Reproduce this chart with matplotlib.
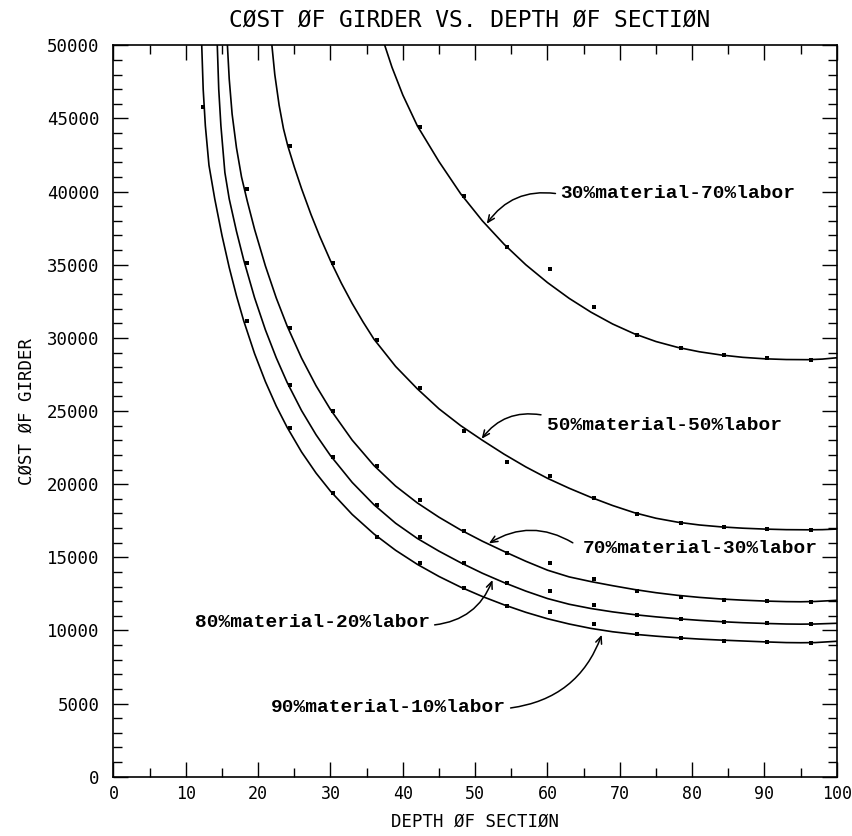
import numpy as np
import matplotlib
matplotlib.use("Agg")
import matplotlib.pyplot as plt
from matplotlib.ticker import MultipleLocator

# ---------------- data ----------------
title = "CØST ØF GIRDER VS. DEPTH ØF SECTIØN"
xlabel = "DEPTH ØF SECTIØN"
ylabel = "CØST ØF GIRDER"

# data points (dots)
dot_x = [12.4, 18.4, 24.4, 30.4, 36.4, 42.4, 48.4, 54.4, 60.4, 66.4, 72.4, 78.4, 84.4, 90.4, 96.4]
nan = np.nan
dots_30 = [nan, nan, nan, nan, nan, 44430, 39720, 36190, 34690, 32100, 30180, 29330, 28850, 28600, 28480]
dots_50 = [nan, nan, 43120, 35140, 29850, 26550, 23650, 21490, 20560, 19050, 17960, 17360, 17090, 16930, 16860]
dots_70 = [nan, 40160, 30650, 25020, 21240, 18900, 16820, 15310, 14630, 13490, 12720, 12300, 12080, 12010, 11970]
dots_80 = [nan, 35140, 26780, 21880, 18570, 16370, 14630, 13260, 12720, 11740, 11050, 10780, 10550, 10490, 10440]
dots_90 = [45800, 31170, 23820, 19400, 16400, 14590, 12900, 11670, 11280, 10470, 9730, 9500, 9300, 9230, 9160]

# fitted curves
curve30_x = [37.5, 38.5, 40, 42, 45, 48, 51, 54, 57, 60, 63, 66, 69, 72, 75, 78, 81, 84, 87, 90, 93, 96, 98, 100]
curve30_y = [50000, 48500, 46600, 44500, 42050, 39850, 38000, 36400, 35000, 33780, 32700, 31760, 30950, 30280,
             29750, 29350, 29050, 28830, 28670, 28570, 28520, 28510, 28550, 28640]

curve50_x = [21.9, 22.3, 22.9, 23.5, 24.1, 25.0, 26.0, 27.3, 28.5, 30.0, 31.5, 33.0, 34.5, 36.0, 39.0, 42.0,
             45.0, 48.0, 51.0, 54.0, 57.0, 60.0, 63.0, 66.0, 69.0, 72.0, 75.0, 78.0, 81.0, 84.0, 87.0, 90.0,
             93.0, 96.0, 98.0, 100.0]
curve50_y = [50000, 48000, 45900, 44300, 43120, 41680, 40200, 38440, 36960, 35270, 33740, 32350, 31090, 29920,
             28050, 26520, 25150, 24000, 23000, 22050, 21180, 20400, 19720, 19100, 18540, 18050, 17670, 17400,
             17210, 17080, 16990, 16930, 16890, 16880, 16890, 16930]

curve70_x = [15.75, 16.0, 16.4, 17.0, 17.7, 18.5, 19.5, 21.0, 22.5, 24.0, 26.0, 28.0, 30.0, 33.0, 36.0, 39.0,
             42.0, 45.0, 48.0, 51.0, 54.0, 57.0, 60.0, 63.0, 66.0, 69.0, 72.0, 75.0, 78.0, 81.0, 84.0, 87.0,
             90.0, 93.0, 95.0, 97.0, 100.0]
curve70_y = [50000, 47700, 45300, 43000, 41000, 39340, 37430, 34920, 32730, 30820, 28620, 26730, 25100, 23010,
             21280, 19870, 18720, 17740, 16870, 16100, 15400, 14730, 14120, 13660, 13340, 13060, 12800, 12580,
             12400, 12260, 12150, 12070, 12010, 11970, 11960, 11980, 12060]

curve80_x = [14.35, 14.55, 14.85, 15.4, 16.0, 17.0, 18.0, 19.5, 21.0, 22.5, 24.0, 26.0, 28.0, 30.0, 33.0, 36.0,
             39.0, 42.0, 45.0, 48.0, 51.0, 54.0, 57.0, 60.0, 63.0, 66.0, 69.0, 72.0, 75.0, 78.0, 81.0, 84.0,
             87.0, 90.0, 93.0, 95.0, 97.0, 100.0]
curve80_y = [50000, 47000, 44500, 41300, 39500, 37290, 35330, 32750, 30550, 28640, 26960, 25030, 23380, 21950,
             20120, 18600, 17330, 16290, 15420, 14630, 13910, 13270, 12690, 12180, 11790, 11500, 11270, 11080,
             10930, 10800, 10690, 10600, 10530, 10480, 10440, 10430, 10440, 10490]

curve90_x = [12.2, 12.4, 12.7, 13.2, 14.0, 15.0, 16.0, 17.0, 18.0, 19.5, 21.0, 22.5, 24.0, 26.0, 28.0, 30.0,
             33.0, 36.0, 39.0, 42.0, 45.0, 48.0, 51.0, 54.0, 57.0, 60.0, 63.0, 66.0, 69.0, 72.0, 75.0, 78.0,
             81.0, 84.0, 87.0, 90.0, 93.0, 95.0, 97.0, 100.0]
curve90_y = [50000, 47000, 44500, 41800, 39500, 37000, 34810, 32880, 31170, 28930, 27010, 25340, 23890, 22200,
             20760, 19520, 17930, 16600, 15480, 14520, 13690, 12960, 12320, 11750, 11240, 10800, 10440, 10140,
             9910, 9740, 9610, 9500, 9410, 9340, 9280, 9220, 9170, 9160, 9170, 9260]

labels = ["30%material-70%labor", "50%material-50%labor", "70%material-30%labor",
          "80%material-20%labor", "90%material-10%labor"]
label_pos = [(61.7, 39870), (59.9, 24040), (64.9, 15570), (11.3, 10530), (21.7, 4700)]
arrow_start = [(61.1, 39870), (59.1, 24740), (63.5, 15990), (44.4, 10380), (54.9, 4700)]
arrow_tip = [(51.6, 37800), (50.9, 23100), (51.9, 15950), (52.4, 13450), (67.5, 9700)]
arrow_rad = [0.3, 0.3, 0.3, 0.3, 0.3]

x_ticks = list(range(0, 101, 10))
y_ticks = list(range(0, 50001, 5000))

# ---------------- drawing ----------------
mono = ["DejaVu Sans Mono"]
fig = plt.figure(figsize=(8.52, 8.36), dpi=100)
ax = fig.add_axes([0.1332, 0.0709, 0.8490, 0.8749])

curves = [(curve30_x, curve30_y), (curve50_x, curve50_y), (curve70_x, curve70_y),
          (curve80_x, curve80_y), (curve90_x, curve90_y)]
for cx, cy in curves:
    ax.plot(cx, cy, color="black", lw=1.2, solid_capstyle="round", solid_joinstyle="round")

for dy in [dots_30, dots_50, dots_70, dots_80, dots_90]:
    ax.plot(dot_x, dy, linestyle="none", marker="s", ms=2.3, mew=0, color="black")

for txt, (tx, ty), s, t, r in zip(labels, label_pos, arrow_start, arrow_tip, arrow_rad):
    ax.text(tx, ty, txt, fontsize=14, fontweight="bold", family=["Liberation Mono"],
            ha="left", va="center", color="black")
    ax.annotate("", xy=t, xytext=s,
                arrowprops=dict(arrowstyle="->,head_length=0.5,head_width=0.22",
                                connectionstyle=f"arc3,rad={r}", color="black", lw=1.1,
                                shrinkA=0, shrinkB=0))

ax.set_xlim(0, 100)
ax.set_ylim(0, 50000)
ax.set_xticks(x_ticks)
ax.set_yticks(y_ticks)
ax.xaxis.set_minor_locator(MultipleLocator(5))
ax.yaxis.set_minor_locator(MultipleLocator(1000))
ax.tick_params(which="both", direction="in", top=True, right=True, width=1, color="black")
ax.tick_params(which="major", length=10.5)
ax.tick_params(which="minor", length=6.5)
ax.tick_params(axis="x", which="major", pad=6, labelsize=12)
ax.tick_params(axis="y", which="major", pad=10, labelsize=12.5)
for lab in ax.get_xticklabels() + ax.get_yticklabels():
    lab.set_family(mono)
for sp in ax.spines.values():
    sp.set_linewidth(1.2)

ax.set_xlabel(xlabel, family=mono, fontsize=12.5, labelpad=7)
ax.set_ylabel(ylabel, family=mono, fontsize=12.5, labelpad=8)
fig.text(0.5517, 0.976, title, family=mono, fontsize=16.5, ha="center", va="center")

fig.savefig("out.png", dpi=100)
